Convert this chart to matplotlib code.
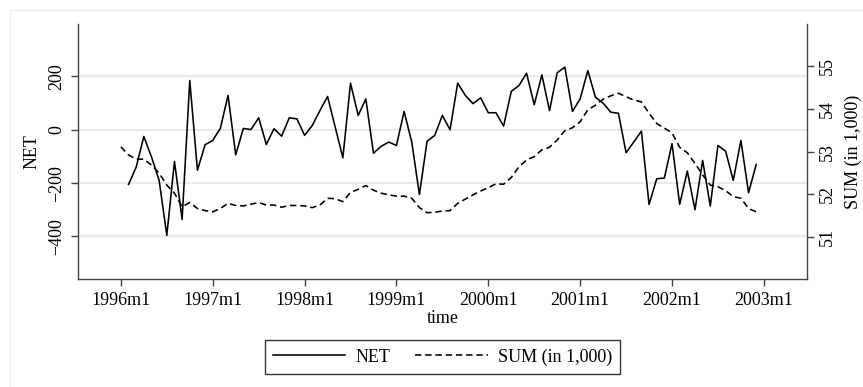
import matplotlib.pyplot as plt
from matplotlib.lines import Line2D

# monthly series, month 0 = 1996m1
net_months = list(range(1, 84))
net = [
    -205, -140, -25, -102, -190, -396, -119, -336, 185, -152, -56, -40,
    6, 129, -94, 5, 1, 45, -55, 4, -24, 45, 41, -21,
    16, 72, 125, 10, -105, 175, 54, 116, -88, -62, -46, -59,
    69, -46, -243, -43, -21, 54, 0, 175, 129, 98, 120, 64,
    64, 14, 144, 166, 212, 94, 206, 72, 214, 235, 69, 116,
    222, 122, 100, 66, 62, -86, -46, -5, -280, -184, -181, -52,
    -280, -155, -300, -115, -286, -59, -80, -190, -40, -236, -130,
]
sum_months = list(range(0, 84))
sum_k = [
    53.11, 52.92, 52.82, 52.82, 52.68, 52.49, 52.21, 52.02, 51.70, 51.80, 51.66, 51.61,
    51.58, 51.66, 51.78, 51.73, 51.72, 51.76, 51.80, 51.74, 51.74, 51.69, 51.73, 51.73,
    51.72, 51.68, 51.74, 51.90, 51.89, 51.82, 52.04, 52.11, 52.20, 52.09, 52.02, 51.98,
    51.95, 51.95, 51.90, 51.68, 51.56, 51.57, 51.60, 51.61, 51.78, 51.88, 51.98, 52.07,
    52.15, 52.24, 52.23, 52.39, 52.64, 52.80, 52.88, 53.04, 53.10, 53.27, 53.49, 53.56,
    53.70, 53.98, 54.09, 54.23, 54.31, 54.37, 54.29, 54.21, 54.17, 53.90, 53.66, 53.55,
    53.44, 53.10, 52.97, 52.72, 52.45, 52.21, 52.17, 52.08, 51.94, 51.90, 51.66, 51.58,
]
years = list(range(1996, 2004))
x_labels = ["%dm1" % y for y in years]
net_ticks = [-400, -200, 0, 200]
sum_ticks = [51, 52, 53, 54, 55]

plt.rcParams["font.family"] = ["Liberation Serif", "DejaVu Serif"]
plt.rcParams["font.size"] = 13

fig = plt.figure(figsize=(8.63, 3.87), dpi=100)
ax = fig.add_axes([0.0904, 0.279, 0.8444, 0.659])
ax2 = ax.twinx()

axcol = "#444444"
lw = 1.15
dash = (4.0, 2.4)
ax.plot(net_months, net, color="black", lw=lw, zorder=3)
ax2.plot(sum_months, sum_k, color="black", lw=lw, dashes=dash, zorder=3)

ax.set_xlim(-5.6, 89.6)
ax.set_ylim(-560, 397)
ax2.set_ylim(50, 56)

ax.set_xticks([12 * i for i in range(len(years))])
ax.set_xticklabels(x_labels)
ax.set_yticks(net_ticks)
ax.set_yticklabels([str(v).replace("-", "\u2212") for v in net_ticks], rotation=90, va="center")
ax2.set_yticks(sum_ticks)
ax2.set_yticklabels([str(v) for v in sum_ticks], rotation=90, va="center")

ax.grid(axis="y", color="#e6e6e6", lw=1.3, zorder=0)
ax.set_axisbelow(True)

for a in (ax, ax2):
    a.spines["top"].set_visible(False)
    for s in ("left", "right", "bottom"):
        a.spines[s].set_color(axcol)
        a.spines[s].set_linewidth(1.0)
    a.tick_params(colors=axcol, labelcolor="black", length=5, width=1.0, pad=4)
ax.spines["right"].set_visible(False)
ax2.spines["left"].set_visible(False)
ax2.spines["bottom"].set_visible(False)

ax.set_ylabel("NET", labelpad=6)
ax.set_xlabel("time", labelpad=1)
ax2.set_ylabel("SUM (in 1,000)", labelpad=6)

handles = [
    Line2D([], [], color="black", lw=lw),
    Line2D([], [], color="black", lw=lw, dashes=dash),
]
leg = fig.legend(
    handles, ["NET", "SUM (in 1,000)"],
    loc="center", bbox_to_anchor=(442.5 / 863, 1 - 357 / 387),
    ncol=2, frameon=True, fancybox=False, edgecolor="black",
    handlelength=4.0, handletextpad=0.55, columnspacing=1.4,
    borderpad=0.45, fontsize=13,
)
leg.get_frame().set_linewidth(1.0)

# faint outer frame (top and left edges only show)
fig.add_artist(Line2D([10 / 863, 1], [1 - 10 / 387, 1 - 10 / 387], color="#eeeeee", lw=1.0))
fig.add_artist(Line2D([10 / 863, 10 / 863], [0, 1 - 10 / 387], color="#eeeeee", lw=1.0))

fig.savefig("out.png", dpi=100)
